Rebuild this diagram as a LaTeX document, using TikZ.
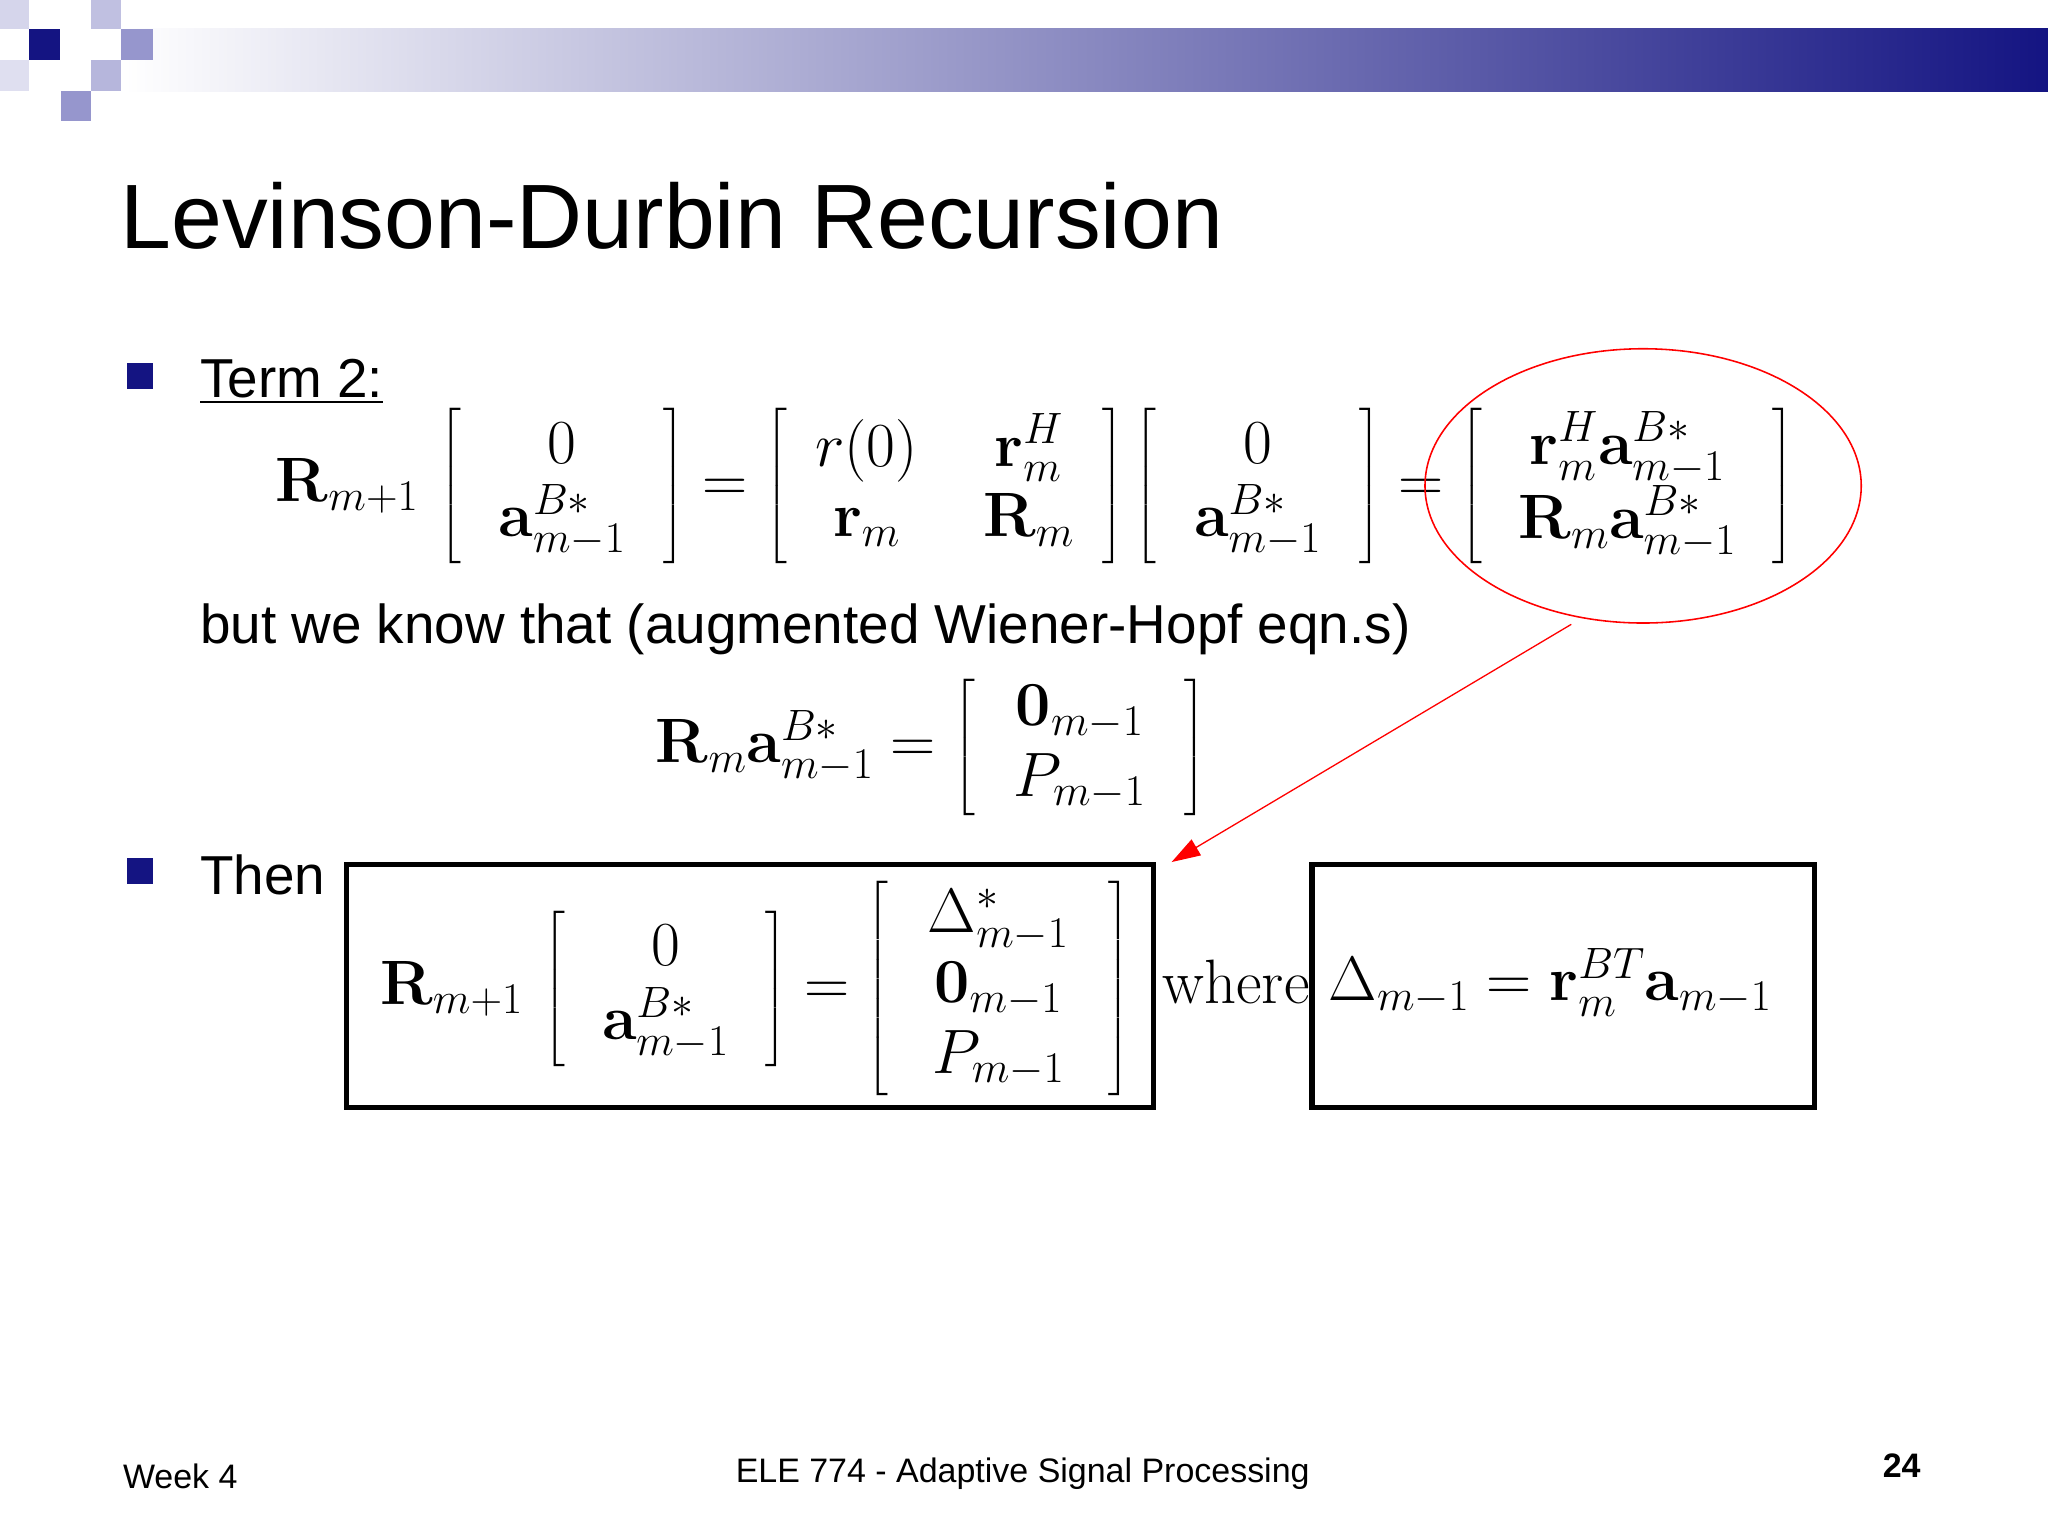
\RequirePackage{fix-cm}
\documentclass[tikz,border=0pt]{standalone}
\usepackage{amsmath}
\usepackage[no-math]{fontspec}
\setmainfont{Liberation Sans}
\usetikzlibrary{arrows.meta}
\definecolor{navy}{RGB}{20,20,130}
\definecolor{lav}{RGB}{150,150,205}
\newcommand{\mfs}{\fontsize{48}{54}\selectfont}
\newcommand{\bmat}[3]{\left[\makebox[#1pt]{$\begin{array}{#2}#3\end{array}$}\right]}
\begin{document}
\begin{tikzpicture}[x=1pt,y=-1pt,
  eq/.style={inner sep=0pt,font=\mfs},
  txt/.style={inner sep=0pt,anchor=west},
  bul/.style={fill=navy,minimum size=20pt,inner sep=0pt}]
\useasboundingbox (0,0) rectangle (1568,1176);
\fill[white] (0,0) rectangle (1568,1176);
% header
\shade[left color=white,right color=navy] (95,22) rectangle (1568,70);
\fill[lav!40] (0,0) rectangle (22,22);
\fill[lav!60] (70,0) rectangle (93,22);
\fill[lav] (93,22) rectangle (117,46);
\fill[navy] (22,22) rectangle (46,46);
\fill[lav!70] (70,46) rectangle (93,70);
\fill[lav] (47,70) rectangle (70,93);
\fill[lav!30] (0,46) rectangle (22,70);
\node[txt,font=\fontsize{70}{74}\selectfont] (title) at (92,165) {Levinson-Durbin Recursion};
\node[bul] (b1) at (107,288) {};
\node[txt,font=\fontsize{42}{48}\selectfont] (t2) at (153,292) {\underline{Term 2:}};
\node[eq,anchor=west] (e1) at (211,372) {$\mathbf R_{m+1}\,\bmat{155}{c}{0\\ \mathbf a^{B*}_{m-1}}=
\bmat{242}{cc}{r(0) & \ \ \ \mathbf r^H_m\\ \mathbf r_m & \ \ \ \mathbf R_m}
\bmat{155}{c}{0\\ \mathbf a^{B*}_{m-1}}=
\bmat{222}{c}{\mathbf r^H_m\mathbf a^{B*}_{m-1}\\ \mathbf R_m\mathbf a^{B*}_{m-1}}$};
\draw[red,line width=1.2pt] (1258,372) ellipse [x radius=167,y radius=105];
\node[txt,font=\fontsize{42}{48}\selectfont] (know) at (153,482) {but we know that (augmented Wiener-Hopf eqn.s)};
\node[eq,anchor=west] (e2) at (502,572) {$\mathbf R_m\mathbf a^{B*}_{m-1}=\bmat{160}{c}{\mathbf 0_{m-1}\\ P_{m-1}}$};
\node[bul] (b2) at (107,667) {};
\node[txt,font=\fontsize{42}{48}\selectfont] (then) at (153,670) {Then};
\node[draw,line width=4pt,minimum width=618,minimum height=186,inner sep=0pt] (box1) at (574,755) {};
\node[eq,anchor=west] (e3) at (291,757) {$\mathbf R_{m+1}\,\bmat{153}{c}{0\\ \mathbf a^{B*}_{m-1}}=
\bmat{168}{c}{\Delta^*_{m-1}\\ \mathbf 0_{m-1}\\ P_{m-1}}$};
\node[eq,anchor=west] (where) at (890,752) {$\mathrm{where}$};
\node[draw,line width=4pt,minimum width=385,minimum height=186,inner sep=0pt] (box2) at (1197,755) {};
\node[eq,anchor=west] (e4) at (1017,752) {$\Delta_{m-1}=\mathbf r^{BT}_m\mathbf a_{m-1}$};
\coordinate (as) at (1203,478);
\coordinate (ae) at (897,660);
\draw[red,line width=1pt,-{Triangle[length=22pt,width=14pt]}] (as) -- (ae);
\node[txt,font=\fontsize{26}{30}\selectfont] (wk) at (94,1130) {Week 4};
\node[inner sep=0pt,font=\fontsize{26}{30}\selectfont] (ct) at (783,1128) {ELE 774 - Adaptive Signal Processing};
\node[inner sep=0pt,font=\fontsize{26}{30}\selectfont\bfseries] (pg) at (1456,1122) {24};
\end{tikzpicture}
\end{document}
